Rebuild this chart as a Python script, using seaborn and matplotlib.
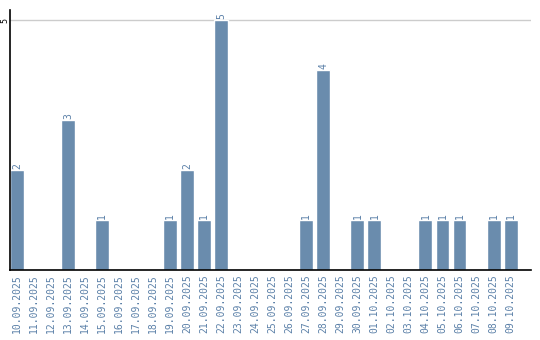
import matplotlib
matplotlib.use("Agg")
import matplotlib.pyplot as plt
import seaborn as sns
import pandas as pd

dates = ["10.09.2025", "11.09.2025", "12.09.2025", "13.09.2025", "14.09.2025",
         "15.09.2025", "16.09.2025", "17.09.2025", "18.09.2025", "19.09.2025",
         "20.09.2025", "21.09.2025", "22.09.2025", "23.09.2025", "24.09.2025",
         "25.09.2025", "26.09.2025", "27.09.2025", "28.09.2025", "29.09.2025",
         "30.09.2025", "01.10.2025", "02.10.2025", "03.10.2025", "04.10.2025",
         "05.10.2025", "06.10.2025", "07.10.2025", "08.10.2025", "09.10.2025"]
counts = [2, 0, 0, 3, 0,
          1, 0, 0, 0, 1,
          2, 1, 5, 0, 0,
          0, 0, 1, 4, 0,
          1, 1, 0, 0, 1,
          1, 1, 0, 1, 1]
yticks = [5]

sns.set_theme(style="white")
plt.rcParams['font.family'] = ['DejaVu Sans Mono', 'DejaVu Sans']

df = pd.DataFrame({"date": dates, "count": counts})
bar_color = "#6a8cad"
label_color = "#5b80a8"

fig = plt.figure(figsize=(5.4, 3.4), dpi=100)
ax = fig.add_axes([10/540, 70/340, 521/540, 260/340])
sns.barplot(data=df, x="date", y="count", order=dates, color=bar_color,
            width=0.82, saturation=1, ax=ax)

ax.set_xlim(-0.41, 30.2)
ax.set_ylim(0, 5.2)
ax.set_yticks(yticks)
ax.set_yticklabels([str(t) for t in yticks], rotation=90, va="center",
                   fontsize=6, color="#000000")
ax.tick_params(axis="y", length=0, pad=0.5)
ax.tick_params(axis="x", length=0, pad=3)
ax.set_xticks(range(len(dates)))
ax.set_xticklabels(dates, rotation=90, fontsize=7, color=label_color)
ax.yaxis.grid(True, color="#cccccc", linewidth=1)
ax.set_axisbelow(True)
ax.set_xlabel("")
ax.set_ylabel("")
for side in ["top", "right"]:
    ax.spines[side].set_visible(False)
for side in ["left", "bottom"]:
    ax.spines[side].set_color("#000000")
    ax.spines[side].set_linewidth(1.2)

cont = ax.containers[0]
labels = [str(v) if v > 0 else "" for v in counts]
ax.bar_label(cont, labels=labels, rotation=90, fontsize=7, color=label_color,
             padding=1)

fig.savefig("out.png", dpi=100)
